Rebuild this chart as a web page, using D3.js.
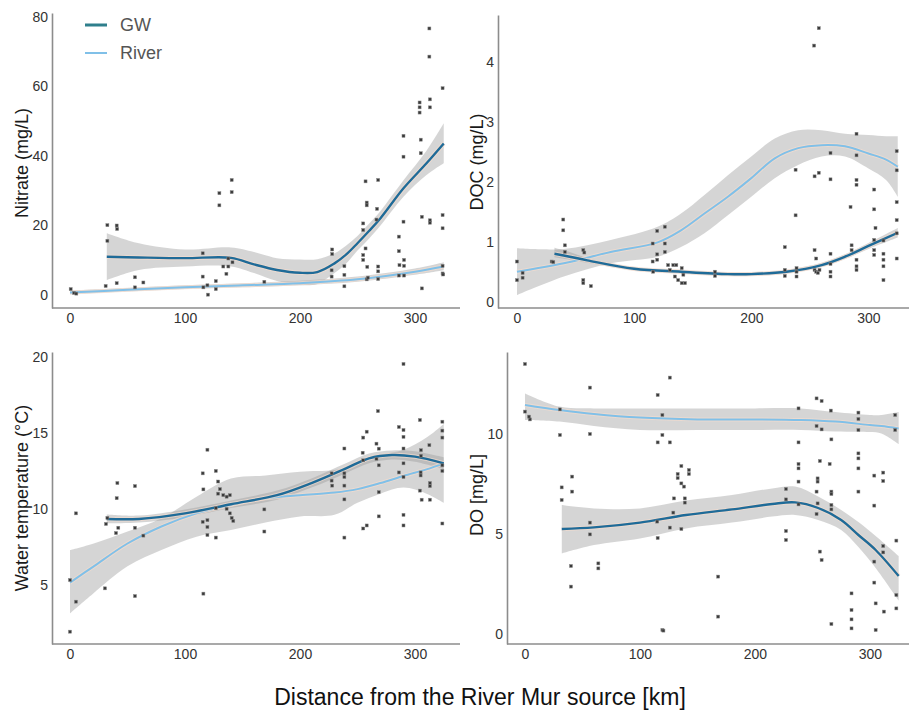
<!DOCTYPE html>
<html>
<head>
<meta charset="utf-8">
<script src="https://cdn.jsdelivr.net/npm/d3@7"></script>
<style>
  html, body { margin: 0; padding: 0; background: #fff; }
  svg { display: block; font-family: "Liberation Sans", Arial, sans-serif; }
</style>
</head>
<body>
<svg id="chart" width="909" height="713"></svg>
<script>
// ---------------- DATA ----------------
const xTicks = [0, 100, 200, 300];
const seriesNames = ["GW", "River"];

// Nitrate (mg/L)
const nitrateTicks = [0, 20, 40, 60, 80];
const nitratePts = [[0.6,1.7],[3.5,0.6],[5.5,0.4],[31,2.6],[32.5,15.6],[32.5,20.1],[40.6,3.4],[40.6,20],[41,19],[56.5,5.1],[56.5,2.2],[63.8,3.6],[115.4,12],[115.4,5.3],[116,2.2],[119.5,2.8],[120,0.1],[126.8,4],[126.8,1.7],[129.9,29.3],[129.9,25.8],[140.6,33.1],[140.6,29.6],[133.3,8.2],[137.7,10.5],[137.7,8.2],[136,6.1],[141.3,9.4],[169,3.8],[228,13.1],[228,11.8],[227.5,7.1],[227.5,5.3],[238.6,8.3],[238.6,5.8],[238.6,2.5],[255,20.6],[255,18.7],[255,11.5],[255,10.1],[257,32.7],[258,26.6],[258,25.8],[257,13.4],[258,4.5],[259,5.0],[258.5,8.1],[267,24.8],[268,33.1],[268,8.2],[268,6.8],[268,4.6],[266.5,21.7],[286,16.8],[286,12.6],[286.5,8.6],[286,5.6],[290,45.8],[290,39.8],[290,21.1],[290.5,10.1],[290.5,8.4],[290.5,5.6],[304,55.4],[304,54],[304,52.5],[305,44.7],[305,40.8],[306,22.5],[306,1.9],[312.5,76.7],[312.5,68.6],[313,56.3],[313,54],[313,21.5],[313,20.8],[324,59.5],[324,23],[324,19.2],[324,8.4],[324,6.2],[324.5,5.9]];
// [km, fit, lower, upper]
const nitrateGW = [[32,11.0,4.3,17.8],[60,10.8,7.2,14.9],[100,10.6,8.2,13.1],[140,10.7,8.2,13.7],[160,8.8,6.3,12.4],[180,7.2,4.0,10.6],[200,6.4,2.9,10.2],[215,6.6,3.2,10.3],[230,9.1,6.3,12.0],[240,11.6,9.0,14.2],[250,14.9,12.8,17.0],[260,18.4,16.2,20.5],[270,22.1,20.0,24.2],[290,30.7,28.3,33.0],[310,37.9,34.5,41.5],[325,43.6,37.9,49.4]];
const nitrateRiver = [[0,0.7,0.2,1.3],[50,1.5,1.0,2.0],[100,2.2,1.7,2.8],[150,2.8,2.2,3.4],[200,3.4,2.8,4.1],[250,4.5,3.8,5.3],[300,6.7,5.8,7.6],[325,8.2,7.1,9.4]];

// DOC (mg/L)
const docTicks = [0, 1, 2, 3, 4];
const docPts = [[0,0.67],[0,0.36],[4.8,0.48],[4.8,0.40],[29.6,0.67],[31,0.66],[39.5,1.37],[39.5,1.19],[40.9,0.94],[40.9,0.83],[56.6,0.86],[57.5,0.82],[56.6,0.36],[56.6,0.31],[63.1,0.26],[115.8,0.97],[115.8,0.67],[116.3,0.50],[119.7,1.18],[119.7,0.79],[119.7,0.70],[126.2,1.25],[126.2,0.97],[126.2,0.83],[129,0.61],[130.4,0.53],[133.4,0.61],[134.8,0.42],[137.6,0.36],[140.6,0.31],[143.4,0.31],[140.6,0.56],[142,0.45],[136,0.61],[169,0.50],[169,0.43],[228.6,0.91],[228.6,0.53],[228.6,0.43],[237.8,2.20],[237.8,1.44],[238.6,0.56],[238.6,0.50],[238.6,0.42],[253.6,4.27],[257.6,4.56],[254,2.09],[257.6,2.15],[254,0.86],[255.4,0.72],[254,0.53],[255.4,0.50],[256.8,0.48],[258.2,0.53],[267.6,2.48],[267.6,2.04],[267.6,0.80],[267.6,0.63],[267.6,0.50],[267.6,0.42],[284.7,1.58],[285.6,0.94],[285.6,0.86],[289.8,2.80],[289.8,2.44],[289.8,2.03],[289.8,1.95],[289.8,0.70],[289.8,0.59],[289.8,0.53],[304.9,1.87],[304.9,1.54],[306,1.23],[304.9,1.03],[304.9,0.86],[304.9,0.78],[312.8,1.02],[312.8,0.80],[312.8,0.70],[312.8,0.59],[312.8,0.36],[324.1,2.51],[324.1,2.19],[324.1,1.66],[324.1,1.36],[324.1,1.14],[324.1,0.72]];
const docGW = [[32,0.80,0.74,0.90],[45,0.75,0.70,0.83],[60,0.69,0.65,0.73],[100,0.55,0.52,0.58],[140,0.50,0.47,0.53],[180,0.46,0.43,0.49],[200,0.46,0.43,0.49],[230,0.50,0.47,0.53],[260,0.61,0.58,0.65],[280,0.75,0.71,0.79],[300,0.93,0.88,0.98],[325,1.15,1.07,1.23]];
const docRiver = [[0,0.50,0.11,0.89],[40,0.64,0.42,0.88],[80,0.83,0.64,1.03],[120,0.99,0.75,1.25],[140,1.19,0.91,1.47],[160,1.47,1.14,1.78],[180,1.75,1.44,2.11],[200,2.06,1.75,2.42],[220,2.39,2.06,2.72],[240,2.56,2.28,2.86],[260,2.61,2.42,2.86],[280,2.59,2.42,2.80],[300,2.47,2.22,2.78],[315,2.37,2.03,2.76],[325,2.25,1.75,2.76]];

// Water temperature (°C)
const tempTicks = [5, 10, 15, 20];
const tempPts = [[0,1.89],[0,5.3],[5.2,3.87],[5.2,9.7],[30.4,4.75],[31.3,9.0],[32.5,9.4],[40,8.4],[40.6,10.7],[41.2,11.7],[42,8.75],[56.5,11.5],[56.5,8.75],[56.5,4.24],[63.8,8.23],[115.4,12.34],[116,11.28],[115.4,9.14],[116,4.4],[119.5,13.9],[119.5,9.25],[119.5,8.8],[119.5,8.27],[126.8,12.5],[126.8,8.1],[128.8,11.8],[130.4,11.3],[133.3,10.9],[126.8,10.04],[128.8,11.0],[136.2,10.8],[139,10.9],[136.2,10.0],[139,9.7],[140.6,9.4],[142,9.2],[169,9.96],[169,8.5],[227.5,12.34],[227.5,11.86],[228,11.53],[238.6,13.98],[238.6,12.34],[238.6,12.1],[238.6,11.53],[238.6,10.62],[238.6,8.1],[254.5,13.7],[255,13.2],[255,14.7],[258,15.09],[255,8.7],[258,8.9],[267.8,16.45],[266.5,14.3],[268.5,13.97],[268.5,12.87],[266.5,13.3],[268.5,11.1],[268.5,9.5],[286,15.4],[286,12.4],[290,19.56],[290,15.2],[290,14.75],[290,13.98],[290,13.0],[290,12.1],[290,9.6],[290,8.9],[304.3,15.86],[305.2,13.87],[305.2,13.5],[304.9,12.4],[304.9,12.2],[304.3,11.2],[305.8,10.6],[312.5,14.2],[313,11.7],[313,11.5],[313,10.6],[323.8,15.75],[323.8,15.16],[323.8,14.7],[323.8,12.87],[323.8,12.5],[323.8,9.03]];
const tempGW = [[32,9.33,9.05,9.62],[60,9.33,9.1,9.55],[100,9.7,9.45,9.95],[140,10.3,10.05,10.55],[180,10.9,10.6,11.2],[210,11.7,11.4,12.0],[240,12.67,12.35,13.0],[260,13.33,13.0,13.65],[280,13.55,13.25,13.85],[300,13.44,13.1,13.8],[325,13.0,12.6,13.4]];
const tempRiver = [[0,5.13,3.1,7.28],[20,6.17,4.4,7.7],[50,7.71,6.2,8.5],[80,8.85,7.3,9.4],[110,9.7,8.16,10.8],[140,10.25,8.6,12.0],[170,10.7,9.1,12.2],[200,10.9,9.5,12.45],[230,11.07,9.6,12.56],[250,11.3,10.4,12.9],[270,11.7,11.0,13.55],[290,12.17,11.4,13.9],[310,12.6,11.0,14.7],[325,13.0,10.4,15.6]];

// DO [mg/L]
const doTicks = [0, 5, 10];
const doPts = [[0,13.5],[0,11.12],[4.3,10.73],[3.5,10.87],[30.4,11.23],[30.4,9.95],[31.9,7.33],[31.9,6.7],[40,3.4],[40,2.37],[41,7.87],[41,7.12],[56.5,12.32],[56.5,10.0],[56.5,5.57],[56.5,4.98],[63.8,3.53],[63.8,3.28],[115.4,11.95],[115.4,9.58],[115.4,4.8],[115,5.62],[119.5,10.95],[119.5,9.95],[119.5,0.2],[120.4,0.17],[126,12.82],[126,9.58],[126,5.32],[129,6.07],[129.6,6.78],[132.8,8.0],[132.8,7.8],[136,8.4],[136,7.53],[138.3,7.37],[139,6.78],[139,6.57],[136,5.25],[142.6,8.2],[142.6,8.0],[168,2.87],[168,0.87],[227,7.25],[227,6.73],[227,5.15],[227,4.7],[237.9,11.28],[237.9,9.58],[237.9,8.5],[237.9,8.28],[237.9,7.62],[237.9,6.48],[253.6,11.78],[258,11.65],[253.6,10.4],[258,10.23],[256.5,8.65],[254.5,7.78],[254.5,7.62],[253.6,7.12],[254.5,6.53],[253.6,6.0],[256.5,4.12],[258,3.7],[266,11.17],[266.5,9.73],[265,8.5],[266.5,7.12],[266.5,7.0],[266.5,6.45],[266.5,6.23],[266.5,0.5],[284,2.03],[284,1.2],[284,0.73],[284,0.28],[290,11.07],[290,10.75],[290,10.2],[290,9.03],[290,8.78],[290,8.28],[290,7.12],[303.8,7.92],[303.8,6.42],[303.8,3.62],[303.8,2.57],[305,1.53],[305,0.2],[311.6,8.07],[311.6,7.65],[311.6,4.4],[311.6,4.08],[312.2,1.12],[322,10.95],[322,10.2],[323,4.67],[323,1.95],[323,1.28]];
const doGW = [[32,5.25,4.03,6.45],[60,5.33,4.45,6.28],[100,5.57,4.78,6.28],[140,5.95,5.28,6.67],[180,6.23,5.57,6.95],[215,6.5,5.87,7.28],[235,6.58,5.95,7.37],[255,6.3,5.7,6.87],[275,5.7,5.2,6.2],[290,4.95,4.35,5.6],[305,4.2,3.3,4.9],[325,2.9,1.67,3.9]];
const doRiver = [[0,11.45,10.7,12.03],[30,11.2,10.62,11.37],[60,11.0,10.4,11.28],[100,10.82,10.2,11.28],[150,10.73,10.2,11.28],[200,10.73,10.2,11.28],[240,10.7,10.2,11.28],[270,10.62,10.12,11.1],[300,10.45,10.1,10.95],[310,10.4,10.03,10.95],[325,10.28,9.5,11.1]];

// ---------------- LAYOUT ----------------
const panels = [
  { label: "Nitrate (mg/L)", ticks: nitrateTicks, pts: nitratePts, gw: nitrateGW, river: nitrateRiver,
    xd: [-15.65, 337.4], xr: [52, 458], yd: [-3.74, 81.15], yr: [308, 13], titleX: 22, titleY: 163, axisEnd: 460 },
  { label: "DOC (mg/L)", ticks: docTicks, pts: docPts, gw: docGW, river: docRiver,
    xd: [-16.2, 334.6], xr: [498, 909], yd: [-0.105, 4.78], yr: [308, 15], titleX: 477, titleY: 162, axisEnd: 909 },
  { label: "Water temperature (°C)", ticks: tempTicks, pts: tempPts, gw: tempGW, river: tempRiver,
    xd: [-15.65, 337.4], xr: [52, 458], yd: [1.076, 20.35], yr: [644, 352], titleX: 22, titleY: 498, axisEnd: 460 },
  { label: "DO [mg/L]", ticks: doTicks, pts: doPts, gw: doGW, river: doRiver,
    xd: [-15.65, 334], xr: [507, 909], yd: [-0.5, 14.1], yr: [644, 352], titleX: 477, titleY: 495, axisEnd: 909 }
];

const colGW = "#1f6b98";
const colRiver = "#80c0e8";
const svg = d3.select("#chart");
const fmt = d3.format("~g");

panels.forEach(p => {
  const x = d3.scaleLinear().domain(p.xd).range(p.xr);
  const y = d3.scaleLinear().domain(p.yd).range(p.yr);
  const g = svg.append("g");
  const curve = d3.curveCatmullRom.alpha(0.5);

  const area = d3.area().x(d => x(d[0])).y0(d => y(d[2])).y1(d => y(d[3])).curve(curve);
  const line = d3.line().x(d => x(d[0])).y(d => y(d[1])).curve(curve);

  [p.river, p.gw].forEach(s => {
    g.append("path").attr("d", area(s)).attr("fill", "#9a9a9a").attr("fill-opacity", 0.42);
  });
  [[p.river, colRiver, 2.0], [p.gw, colGW, 2.4]].forEach(([s, c, w]) => {
    g.append("path").attr("d", line(s)).attr("fill", "none")
      .attr("stroke", "#f4dccd").attr("stroke-width", w + 2).attr("stroke-opacity", 0.7);
    g.append("path").attr("d", line(s)).attr("fill", "none")
      .attr("stroke", c).attr("stroke-width", w);
  });

  g.selectAll("rect.pt").data(p.pts).join("rect").attr("class", "pt")
    .attr("x", d => x(d[0]) - 1.5).attr("y", d => y(d[1]) - 1.5)
    .attr("width", 3).attr("height", 3)
    .attr("fill", "#3a3a3a").attr("stroke", "#888").attr("stroke-width", 0.5);

  // axes
  const yAxis = g.append("g").attr("transform", `translate(${p.xr[0]},0)`)
    .call(d3.axisLeft(y).tickValues(p.ticks).tickFormat(fmt).tickSize(0).tickPadding(4));
  const xAxis = g.append("g").attr("transform", `translate(0,${p.yr[0]})`)
    .call(d3.axisBottom(x).tickValues(xTicks).tickFormat(fmt).tickSize(0).tickPadding(5));
  [xAxis, yAxis].forEach(a => {
    a.select(".domain").attr("stroke", "#8c8c8c").attr("stroke-width", 1.6);
    a.selectAll("text").attr("fill", "#333").attr("font-size", 14);
  });
  xAxis.select(".domain").attr("d", `M${p.xr[0]},0H${p.axisEnd}`);

  g.append("text")
    .attr("transform", `translate(${p.titleX},${p.titleY}) rotate(-90)`)
    .attr("text-anchor", "middle").attr("dy", "0.35em")
    .attr("font-size", 18).attr("fill", "#1a1a1a").text(p.label);
});

// legend
const legend = svg.append("g");
const legendCols = ["#2f7f8c", colRiver];
seriesNames.forEach((n, i) => {
  const yy = 25 + i * 28;
  legend.append("line").attr("x1", 85).attr("x2", 107).attr("y1", yy).attr("y2", yy)
    .attr("stroke", legendCols[i]).attr("stroke-width", i === 0 ? 3 : 2);
  legend.append("text").attr("x", 120).attr("y", yy).attr("dy", "0.35em")
    .attr("font-size", 18).attr("fill", "#555").text(n);
});

// shared x title
svg.append("text").attr("x", 480).attr("y", 705).attr("text-anchor", "middle")
  .attr("font-size", 23).attr("fill", "#111")
  .text("Distance from the River Mur source [km]");
</script>
</body>
</html>
